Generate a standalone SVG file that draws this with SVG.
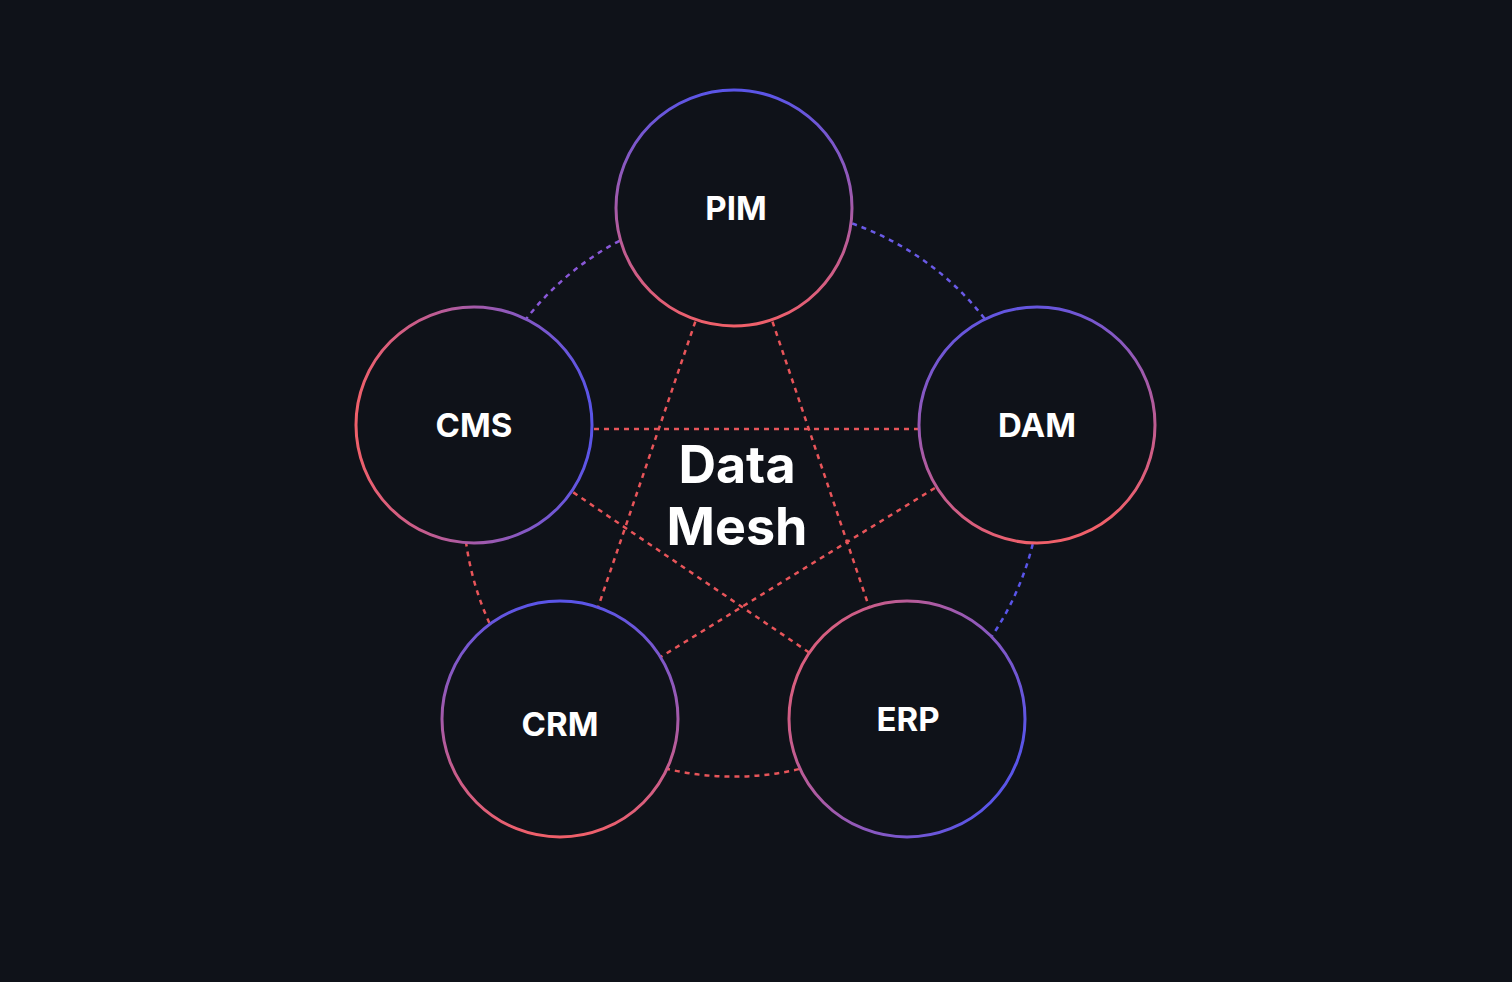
<svg xmlns="http://www.w3.org/2000/svg" width="1512" height="982" viewBox="0 0 1512 982">
<defs>
<linearGradient id="gTB" x1="0" y1="0" x2="0" y2="1"><stop offset="0" stop-color="#5a55e8"/><stop offset="1" stop-color="#f0606a"/></linearGradient>
<linearGradient id="gLR" x1="0" y1="0" x2="1" y2="0"><stop offset="0" stop-color="#f0606a"/><stop offset="1" stop-color="#5a55e8"/></linearGradient>
<linearGradient id="gERP" x1="0" y1="0" x2="1" y2="0.6"><stop offset="0" stop-color="#f0606a"/><stop offset="1" stop-color="#5a55e8"/></linearGradient>
<linearGradient id="gDAM" x1="0.2" y1="0" x2="0.5" y2="1"><stop offset="0" stop-color="#5a55e8"/><stop offset="1" stop-color="#f0606a"/></linearGradient>
</defs>
<style>
.n{fill:#0f1219;stroke-width:3}
.l{font-family:Inter,"Liberation Sans",sans-serif;font-weight:700;fill:#fff;text-anchor:middle}
.d{fill:none;stroke-width:2.5;stroke-dasharray:5 5}
</style>
<rect width="1512" height="982" fill="#0f1219"/>
<g id="connectors">
<path class="d" stroke="#8a58d8" d="M734,208 A290,290 0 0 0 474,425"/>
<path class="d" stroke="#6a5ae6" d="M734,208 A290,290 0 0 1 1037,425"/>
<path class="d" stroke="#5a55e8" d="M1037,425 A290,290 0 0 1 907,719"/>
<path class="d" stroke="#e8555a" d="M907,719 A290,290 0 0 1 560,719"/>
<path class="d" stroke="#e8555a" d="M560,719 A290,290 0 0 1 474,425"/>
<line class="d" stroke="#e8555a" x1="734" y1="208" x2="560" y2="719"/>
<line class="d" stroke="#e8555a" x1="734" y1="208" x2="907" y2="719"/>
<line class="d" stroke="#e8555a" x1="474" y1="429" x2="1037" y2="429"/>
<line class="d" stroke="#e8555a" x1="474" y1="425" x2="907" y2="719"/>
<line class="d" stroke="#e8555a" x1="1037" y1="425" x2="560" y2="719"/>
</g>
<g id="pim"><circle class="n" cx="734" cy="208" r="118" stroke="url(#gTB)"/><text class="l" x="736" y="220" font-size="33">PIM</text></g>
<g id="cms"><circle class="n" cx="474" cy="425" r="118" stroke="url(#gLR)"/><text class="l" x="474" y="437" font-size="33">CMS</text></g>
<g id="dam"><circle class="n" cx="1037" cy="425" r="118" stroke="url(#gDAM)"/><text class="l" x="1037" y="437" font-size="33">DAM</text></g>
<g id="crm"><circle class="n" cx="560" cy="719" r="118" stroke="url(#gTB)"/><text class="l" x="560" y="736" font-size="33">CRM</text></g>
<g id="erp"><circle class="n" cx="907" cy="719" r="118" stroke="url(#gERP)"/><text class="l" x="908" y="731" font-size="33">ERP</text></g>
<g id="center"><text class="l" x="737" y="483" font-size="52">Data</text><text class="l" x="737" y="545" font-size="52">Mesh</text></g>
</svg>
